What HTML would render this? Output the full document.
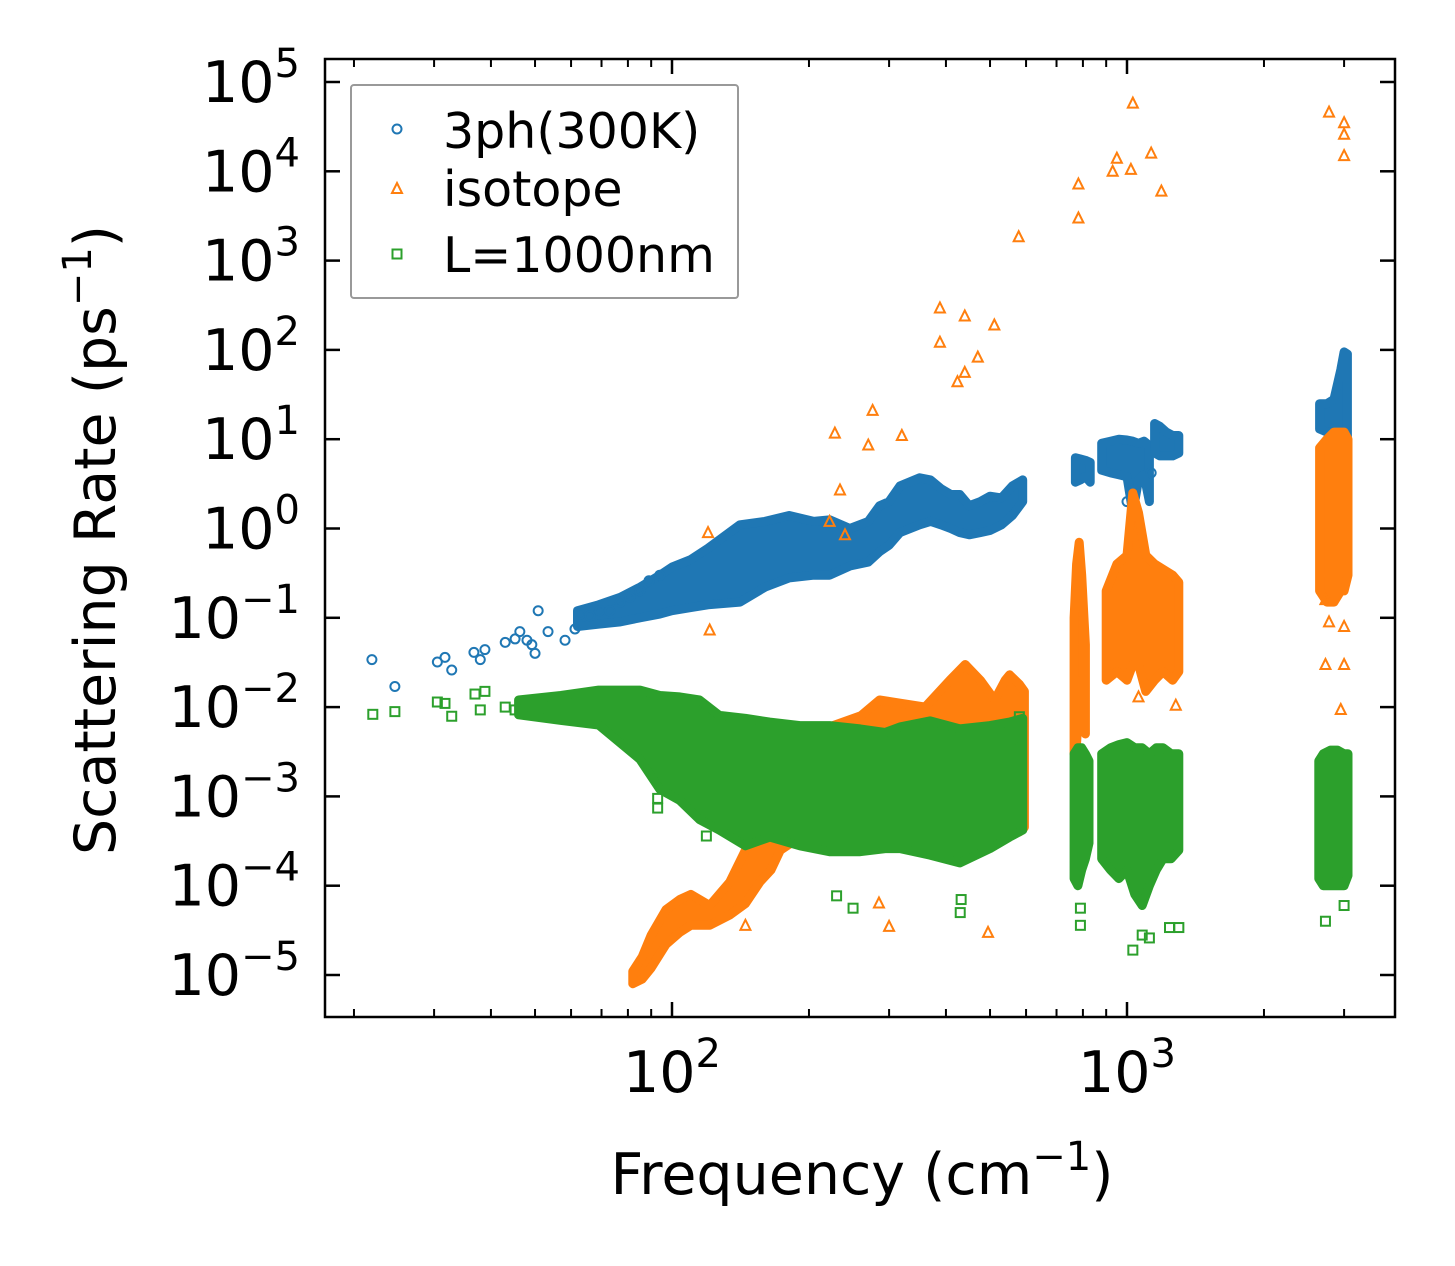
<!DOCTYPE html>
<html><head><meta charset="utf-8"><style>
html,body{margin:0;padding:0;background:#fff;}
svg{display:block;font-family:"DejaVu Sans","Liberation Sans",sans-serif;}
</style></head><body>
<svg id="chart" width="1455" height="1266" viewBox="0 0 1455 1266" xmlns="http://www.w3.org/2000/svg">
<rect width="1455" height="1266" fill="#fff"/>
<g id="marks"></g>
<g id="axes"></g>
<text x="862" y="1194" font-size="57" text-anchor="middle">Frequency (cm<tspan font-size="40" dy="-24">−1</tspan><tspan dy="24">)</tspan></text>
<text transform="translate(115,540) rotate(-90)" font-size="57" text-anchor="middle">Scattering Rate (ps<tspan font-size="40" dy="-24">−1</tspan><tspan dy="24">)</tspan></text>
<g>
<rect x="351" y="85" width="387" height="213" fill="#fff" stroke="#999" stroke-width="2" rx="3"/>
<circle cx="397" cy="129" r="4.5" fill="none" stroke="#1f77b4" stroke-width="2"/>
<text x="443" y="148" font-size="49">3ph(300K)</text>
<path d="M397,183 L402,193 L392,193 Z" fill="none" stroke="#ff7f0e" stroke-width="2"/>
<text x="443" y="206" font-size="49">isotope</text>
<rect x="392.5" y="249.5" width="9" height="9" fill="none" stroke="#2ca02c" stroke-width="2"/>
<text x="443" y="272" font-size="49">L=1000nm</text>
</g>
</svg>
<script>
// ---- data ----
const xTickExps = [2, 3];
const yTickExps = [5, 4, 3, 2, 1, 0, -1, -2, -3, -4, -5];

const bluePtsF = [21.9, 24.6, 30.5, 31.7, 32.8, 36.7, 38.8, 37.9, 43, 45.2, 46.3, 48, 50.8, 49.2, 50, 53.4, 58.2, 61.2, 62.8, 66, 69.4, 73, 77, 80.8, 85, 89, 94, 1130, 1000];
const bluePtsR = [0.034, 0.017, 0.032, 0.036, 0.026, 0.041, 0.044, 0.034, 0.053, 0.058, 0.07, 0.056, 0.12, 0.05, 0.04, 0.07, 0.056, 0.075, 0.11, 0.105, 0.12, 0.12, 0.15, 0.17, 0.2, 0.26, 0.3, 4.2, 2.0];
const blueMainF = [62, 69, 77, 85, 94, 100, 110, 120, 141, 160, 181, 205, 222, 246, 270, 286, 300, 317, 350, 370, 390, 410, 429, 450, 476, 500, 530, 560, 590];
const blueMainHi = [0.12, 0.14, 0.17, 0.22, 0.3, 0.37, 0.45, 0.6, 1.1, 1.2, 1.4, 1.2, 1.25, 1.0, 1.2, 1.8, 2.0, 3.0, 3.7, 3.5, 2.8, 2.4, 2.4, 1.8, 2.0, 2.3, 2.2, 3.0, 3.5];
const blueMainLo = [0.08, 0.085, 0.09, 0.1, 0.11, 0.12, 0.13, 0.14, 0.15, 0.22, 0.28, 0.3, 0.3, 0.38, 0.42, 0.55, 0.65, 0.9, 1.1, 1.2, 1.1, 1.0, 0.9, 0.85, 0.9, 0.95, 1.1, 1.4, 2.0];
const blueC1F = [770, 790, 810, 830];
const blueC1Hi = [6.2, 6.0, 5.8, 5.5];
const blueC1Lo = [3.3, 3.5, 3.8, 3.3];
const blueC2F = [880, 920, 960, 1000, 1030, 1060, 1090, 1120];
const blueC2Hi = [9, 9.5, 10, 9.8, 9.5, 9, 9.5, 8.5];
const blueC2Lo = [4.5, 4.2, 4.0, 3.8, 1.5, 3.5, 4.0, 2.0];
const blueC3F = [1150, 1180, 1220, 1260, 1300];
const blueC3Hi = [15, 14, 12, 11, 11];
const blueC3Lo = [7, 6.5, 6.5, 6.5, 7];
const blueC4F = [2650, 2750, 2850, 2950, 3000, 3050];
const blueC4Hi = [25, 25, 28, 60, 95, 90];
const blueC4Lo = [13, 12, 12, 10, 5, 5];

const orangePtsF = [120, 121, 228, 234, 222, 240, 276, 270, 320, 388, 388, 424, 440, 440, 470, 511, 578, 782, 782, 950, 930, 1020, 1030, 1130, 1190, 2780, 3000, 3000, 3000, 2730, 2780, 3000, 2730, 3000, 2950, 1280, 1060, 300, 495, 285, 145, 193];
const orangePtsR = [0.9, 0.073, 11.7, 2.7, 1.2, 0.85, 21, 8.6, 11, 295, 122, 44, 240, 56, 83, 190, 1850, 7200, 3000, 14000, 10000, 10500, 58000, 16000, 6000, 46000, 35000, 26000, 15000, 0.16, 0.09, 0.08, 0.03, 0.03, 0.0094, 0.0105, 0.013, 3.5e-5, 3e-5, 6.4e-5, 3.6e-5, 3.4e-4];
const orangeLowF = [82, 86, 90, 97, 104, 110, 121, 134, 145, 156, 165, 173, 191, 222];
const orangeLowHi = [1.1e-5, 1.6e-5, 2.8e-5, 5.4e-5, 7e-5, 8e-5, 6e-5, 1.1e-4, 2.5e-4, 4.2e-4, 7e-4, 1.2e-3, 2e-3, 5e-3];
const orangeLowLo = [8e-6, 9e-6, 1.2e-5, 2.2e-5, 3e-5, 3.6e-5, 3.6e-5, 4.7e-5, 6.3e-5, 1.1e-4, 1.5e-4, 2.5e-4, 3.5e-4, 6e-4];
const orangeMidF = [222, 260, 286, 320, 360, 408, 441, 476, 512, 540, 552, 580, 595];
const orangeMidHi = [6e-3, 8e-3, 0.012, 0.011, 0.01, 0.02, 0.03, 0.02, 0.012, 0.02, 0.023, 0.018, 0.015];
const orangeMidLo = [4e-4, 4e-4, 4.2e-4, 4.2e-4, 4e-4, 4e-4, 4e-4, 4e-4, 4e-4, 4e-4, 4e-4, 4e-4, 4.5e-4];
const orangeC1F = [765, 775, 785, 795, 810];
const orangeC1Hi = [0.1, 0.4, 0.7, 0.3, 0.05];
const orangeC1Lo = [0.003, 0.004, 0.012, 0.02, 0.005];
const orangeC2F = [900, 950, 1000, 1030, 1060, 1100, 1150, 1200, 1260, 1300];
const orangeC2Hi = [0.2, 0.4, 0.5, 2.5, 1.5, 0.5, 0.4, 0.35, 0.3, 0.25];
const orangeC2Lo = [0.02, 0.025, 0.02, 0.03, 0.03, 0.015, 0.02, 0.025, 0.02, 0.025];
const orangeC3F = [2650, 2750, 2850, 2950, 3000, 3060];
const orangeC3Hi = [8, 10, 12, 12, 12, 10];
const orangeC3Lo = [0.2, 0.15, 0.15, 0.2, 0.2, 0.3];

const greenPtsF = [22, 24.6, 30.5, 31.7, 32.8, 36.9, 38.8, 37.9, 43, 45.2, 790, 790, 1030, 1080, 1120, 1240, 2730, 3000, 430, 432, 250, 230, 119, 93, 93, 94, 580, 560, 1300];
const greenPtsR = [0.0083, 0.0089, 0.0114, 0.011, 0.0079, 0.014, 0.015, 0.0093, 0.01, 0.0093, 3.6e-5, 5.6e-5, 1.9e-5, 2.8e-5, 2.6e-5, 3.4e-5, 4e-5, 6e-5, 5e-5, 7e-5, 5.6e-5, 7.7e-5, 3.6e-4, 7.4e-4, 9.5e-4, 1.4e-3, 0.0078, 0.0035, 3.4e-5];
const greenMainF = [46, 57, 69, 85, 94, 104, 115, 127, 145, 164, 191, 222, 259, 294, 317, 369, 429, 500, 552, 590];
const greenMainHi = [0.012, 0.0135, 0.0155, 0.0155, 0.0135, 0.013, 0.012, 0.0081, 0.0075, 0.0068, 0.0062, 0.0062, 0.0057, 0.0052, 0.006, 0.007, 0.0057, 0.0062, 0.0068, 0.0075];
const greenMainLo = [0.0082, 0.0071, 0.0063, 0.0026, 0.0012, 9e-4, 5.5e-4, 4.2e-4, 2.8e-4, 3.5e-4, 2.8e-4, 2.4e-4, 2.4e-4, 2.6e-4, 2.6e-4, 2.2e-4, 1.8e-4, 2.6e-4, 3.5e-4, 4.2e-4];
const greenC1F = [765, 780, 795, 810, 825];
const greenC1Hi = [0.003, 0.0035, 0.0035, 0.003, 0.0025];
const greenC1Lo = [1.2e-4, 1e-4, 1.5e-4, 2e-4, 3e-4];
const greenC2F = [880, 920, 960, 1000, 1040, 1080, 1120, 1160, 1200, 1250, 1300];
const greenC2Hi = [0.003, 0.0035, 0.0038, 0.004, 0.0035, 0.0035, 0.003, 0.0035, 0.0035, 0.003, 0.003];
const greenC2Lo = [2e-4, 1.5e-4, 1.2e-4, 1.5e-4, 8e-5, 6e-5, 1e-4, 1.5e-4, 2e-4, 2e-4, 2.5e-4];
const greenC3F = [2640, 2700, 2800, 2900, 3000, 3060];
const greenC3Hi = [0.0025, 0.003, 0.0033, 0.0033, 0.003, 0.003];
const greenC3Lo = [1.2e-4, 1e-4, 1e-4, 1e-4, 1e-4, 1.3e-4];

// ---- axes ----
const PL = 325, PR = 1395, PT = 59, PB = 1017;
function xs(f) { return 672 + (Math.log10(f) - 2) * 455; }
function ys(r) { return 82 + (5 - Math.log10(r)) * 89.3; }
const NS = 'http://www.w3.org/2000/svg';
const marks = document.getElementById('marks');
const axes = document.getElementById('axes');
function mk(tag, parent) { const e = document.createElementNS(NS, tag); parent.appendChild(e); return e; }

function band(F, Hi, Lo, color, name) {
  const pts = [];
  for (let i = 0; i < F.length; i++) pts.push(xs(F[i]).toFixed(1) + ',' + ys(Hi[i]).toFixed(1));
  for (let i = F.length - 1; i >= 0; i--) pts.push(xs(F[i]).toFixed(1) + ',' + ys(Lo[i]).toFixed(1));
  const p = mk('polygon', marks);
  p.setAttribute('points', pts.join(' '));
  p.setAttribute('fill', color);
  p.setAttribute('stroke', color);
  p.setAttribute('stroke-width', '9');
  p.setAttribute('stroke-linejoin', 'round');
  
  
}
function points(F, R, color, shape, name) {
  for (let i = 0; i < F.length; i++) {
    const x = xs(F[i]), y = ys(R[i]);
    let e;
    if (shape === 'circle') { e = mk('circle', marks); e.setAttribute('cx', x); e.setAttribute('cy', y); e.setAttribute('r', 4.5); }
    else if (shape === 'tri') { e = mk('path', marks); e.setAttribute('d', `M${x},${y - 5.5} L${x + 5},${y + 4.5} L${x - 5},${y + 4.5} Z`); }
    else { e = mk('rect', marks); e.setAttribute('x', x - 4.5); e.setAttribute('y', y - 4.5); e.setAttribute('width', 9); e.setAttribute('height', 9); }
    e.setAttribute('fill', 'none');
    e.setAttribute('stroke', color);
    e.setAttribute('stroke-width', '2');
    
    
  }
}
const B = '#1f77b4', O = '#ff7f0e', G = '#2ca02c';
band(blueMainF, blueMainHi, blueMainLo, B, 'band-3ph-main');
band(blueC1F, blueC1Hi, blueC1Lo, B, 'band-3ph-800');
band(blueC2F, blueC2Hi, blueC2Lo, B, 'band-3ph-1000');
band(blueC3F, blueC3Hi, blueC3Lo, B, 'band-3ph-1200');
band(blueC4F, blueC4Hi, blueC4Lo, B, 'band-3ph-3000');
points(bluePtsF, bluePtsR, B, 'circle', 'point-3ph');
band(orangeLowF, orangeLowHi, orangeLowLo, O, 'band-isotope-low');
band(orangeMidF, orangeMidHi, orangeMidLo, O, 'band-isotope-mid');
band(orangeC1F, orangeC1Hi, orangeC1Lo, O, 'band-isotope-800');
band(orangeC2F, orangeC2Hi, orangeC2Lo, O, 'band-isotope-1000');
band(orangeC3F, orangeC3Hi, orangeC3Lo, O, 'band-isotope-3000');
points(orangePtsF, orangePtsR, O, 'tri', 'point-isotope');
band(greenMainF, greenMainHi, greenMainLo, G, 'band-boundary-main');
band(greenC1F, greenC1Hi, greenC1Lo, G, 'band-boundary-800');
band(greenC2F, greenC2Hi, greenC2Lo, G, 'band-boundary-1000');
band(greenC3F, greenC3Hi, greenC3Lo, G, 'band-boundary-3000');
points(greenPtsF, greenPtsR, G, 'square', 'point-boundary');

// frame
const fr = mk('rect', axes);
fr.setAttribute('x', PL); fr.setAttribute('y', PT); fr.setAttribute('width', PR - PL); fr.setAttribute('height', PB - PT);
fr.setAttribute('fill', 'none'); fr.setAttribute('stroke', '#000'); fr.setAttribute('stroke-width', '2.5');



function line(x1, y1, x2, y2, w, name) {
  const l = mk('line', axes);
  l.setAttribute('x1', x1); l.setAttribute('y1', y1); l.setAttribute('x2', x2); l.setAttribute('y2', y2);
  l.setAttribute('stroke', '#000'); l.setAttribute('stroke-width', w);
  
  
}
// y ticks
yTickExps.forEach(e => {
  const y = ys(Math.pow(10, e));
  line(PL, y, PL + 15, y, 2.5, 'y-tick');
  line(PR - 15, y, PR, y, 2.5, 'y-tick-right');
  const t = mk('text', axes);
  t.setAttribute('x', 300); t.setAttribute('y', y + 20); t.setAttribute('font-size', 57); t.setAttribute('text-anchor', 'end');
  
  
  t.innerHTML = '10<tspan font-size="40" dy="-25">' + (e < 0 ? '−' + (-e) : e) + '</tspan>';
});
// x ticks
for (let d = 1; d <= 3; d++) {
  for (let m = 1; m <= 9; m++) {
    const f = m * Math.pow(10, d);
    const x = xs(f);
    if (x < PL || x > PR) continue;
    const major = m === 1;
    const len = major ? 15 : 8, w = major ? 2.5 : 2;
    line(x, PB - len, x, PB, w, major ? 'x-tick' : 'x-minor-tick');
    line(x, PT, x, PT + len, w, major ? 'x-tick-top' : 'x-minor-tick-top');
  }
}
xTickExps.forEach(e => {
  const t = mk('text', axes);
  t.setAttribute('x', xs(Math.pow(10, e))); t.setAttribute('y', 1092); t.setAttribute('font-size', 57); t.setAttribute('text-anchor', 'middle');
  
  
  t.innerHTML = '10<tspan font-size="40" dy="-25">' + e + '</tspan>';
});
</script>
</body></html>
